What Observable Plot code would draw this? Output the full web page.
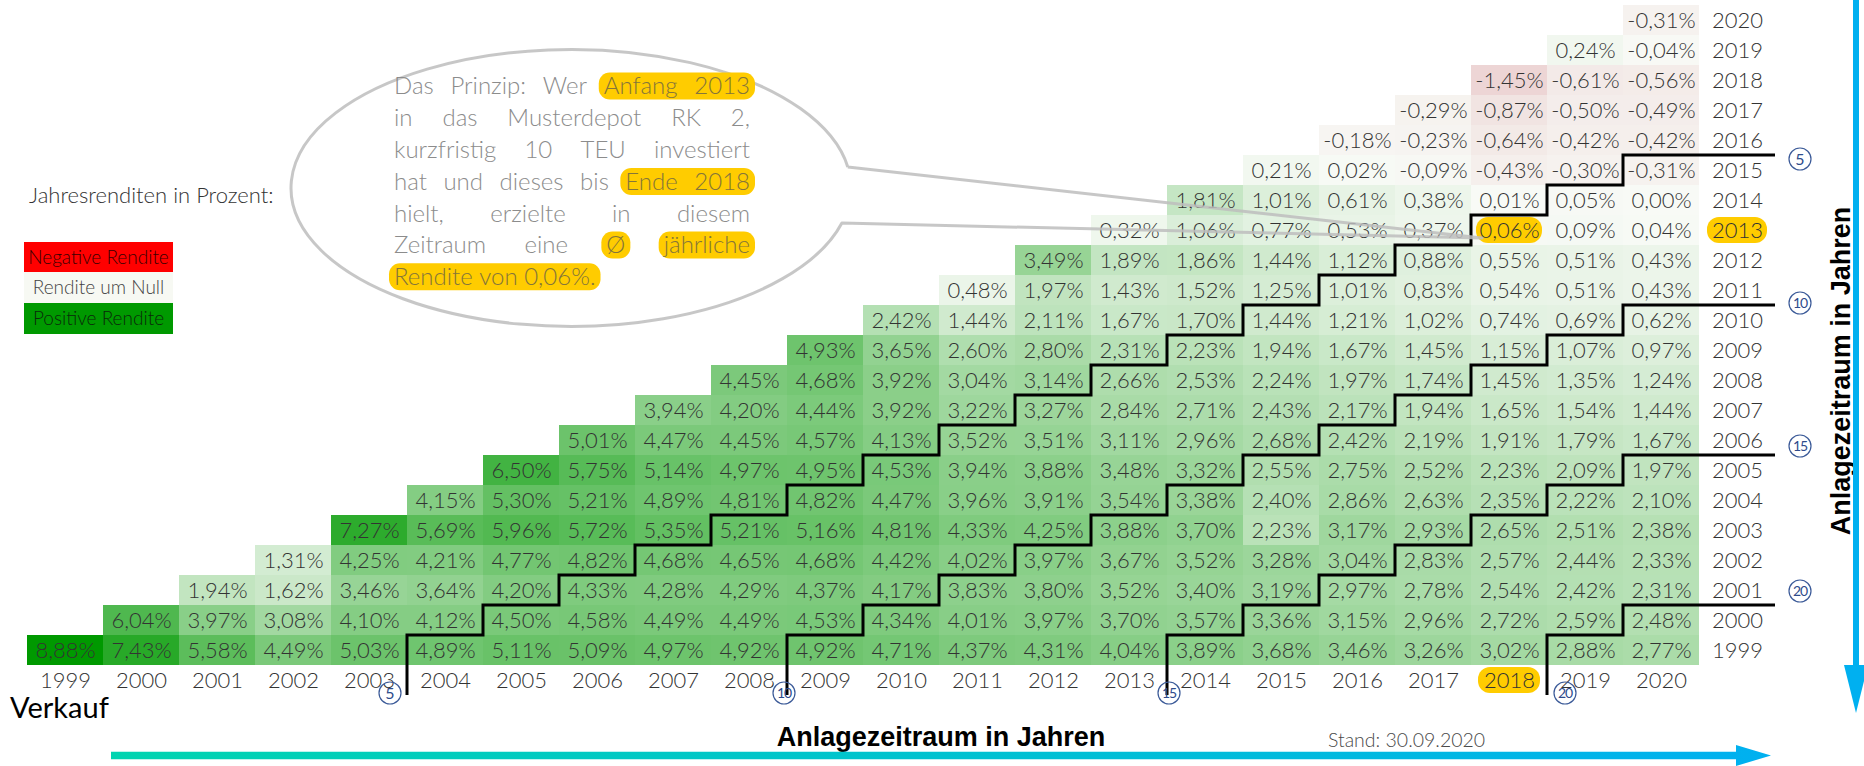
<!DOCTYPE html>
<html><head><meta charset="utf-8">
<script src="https://cdn.jsdelivr.net/npm/d3@7"></script>
<script src="https://cdn.jsdelivr.net/npm/@observablehq/plot@0.6"></script>
<style>
html,body{margin:0;padding:0;background:#fff;overflow:hidden}
#chart{position:relative;width:1864px;height:766px}
</style></head><body><div id="chart"></div>
<script>
// ---- data: sell years (columns, "Ende") and buy years (rows, "Anfang") ----
const sellYears = ["1999","2000","2001","2002","2003","2004","2005","2006","2007","2008","2009","2010","2011","2012","2013","2014","2015","2016","2017","2018","2019","2020"];
const buyYears  = ["1999","2000","2001","2002","2003","2004","2005","2006","2007","2008","2009","2010","2011","2012","2013","2014","2015","2016","2017","2018","2019","2020"];
// annual return in % for an investment made at the start of the buy year, held until end of each sell year
const ret1999 = [8.88, 7.43, 5.58, 4.49, 5.03, 4.89, 5.11, 5.09, 4.97, 4.92, 4.92, 4.71, 4.37, 4.31, 4.04, 3.89, 3.68, 3.46, 3.26, 3.02, 2.88, 2.77];
const ret2000 = [6.04, 3.97, 3.08, 4.10, 4.12, 4.50, 4.58, 4.49, 4.49, 4.53, 4.34, 4.01, 3.97, 3.70, 3.57, 3.36, 3.15, 2.96, 2.72, 2.59, 2.48];
const ret2001 = [1.94, 1.62, 3.46, 3.64, 4.20, 4.33, 4.28, 4.29, 4.37, 4.17, 3.83, 3.80, 3.52, 3.40, 3.19, 2.97, 2.78, 2.54, 2.42, 2.31];
const ret2002 = [1.31, 4.25, 4.21, 4.77, 4.82, 4.68, 4.65, 4.68, 4.42, 4.02, 3.97, 3.67, 3.52, 3.28, 3.04, 2.83, 2.57, 2.44, 2.33];
const ret2003 = [7.27, 5.69, 5.96, 5.72, 5.35, 5.21, 5.16, 4.81, 4.33, 4.25, 3.88, 3.70, 2.23, 3.17, 2.93, 2.65, 2.51, 2.38];
const ret2004 = [4.15, 5.30, 5.21, 4.89, 4.81, 4.82, 4.47, 3.96, 3.91, 3.54, 3.38, 2.40, 2.86, 2.63, 2.35, 2.22, 2.10];
const ret2005 = [6.50, 5.75, 5.14, 4.97, 4.95, 4.53, 3.94, 3.88, 3.48, 3.32, 2.55, 2.75, 2.52, 2.23, 2.09, 1.97];
const ret2006 = [5.01, 4.47, 4.45, 4.57, 4.13, 3.52, 3.51, 3.11, 2.96, 2.68, 2.42, 2.19, 1.91, 1.79, 1.67];
const ret2007 = [3.94, 4.20, 4.44, 3.92, 3.22, 3.27, 2.84, 2.71, 2.43, 2.17, 1.94, 1.65, 1.54, 1.44];
const ret2008 = [4.45, 4.68, 3.92, 3.04, 3.14, 2.66, 2.53, 2.24, 1.97, 1.74, 1.45, 1.35, 1.24];
const ret2009 = [4.93, 3.65, 2.60, 2.80, 2.31, 2.23, 1.94, 1.67, 1.45, 1.15, 1.07, 0.97];
const ret2010 = [2.42, 1.44, 2.11, 1.67, 1.70, 1.44, 1.21, 1.02, 0.74, 0.69, 0.62];
const ret2011 = [0.48, 1.97, 1.43, 1.52, 1.25, 1.01, 0.83, 0.54, 0.51, 0.43];
const ret2012 = [3.49, 1.89, 1.86, 1.44, 1.12, 0.88, 0.55, 0.51, 0.43];
const ret2013 = [0.32, 1.06, 0.77, 0.53, 0.37, 0.06, 0.09, 0.04];
const ret2014 = [1.81, 1.01, 0.61, 0.38, 0.01, 0.05, 0.00];
const ret2015 = [0.21, 0.02, -0.09, -0.43, -0.30, -0.31];
const ret2016 = [-0.18, -0.23, -0.64, -0.42, -0.42];
const ret2017 = [-0.29, -0.87, -0.50, -0.49];
const ret2018 = [-1.45, -0.61, -0.56];
const ret2019 = [0.24, -0.04];
const ret2020 = [-0.31];
const periodMarks = [5, 10, 15, 20];
const highlightBuy = "2013", highlightSell = "2018";

// ---- build table ----
const rowsList = [ret1999,ret2000,ret2001,ret2002,ret2003,ret2004,ret2005,ret2006,ret2007,ret2008,ret2009,ret2010,ret2011,ret2012,ret2013,ret2014,ret2015,ret2016,ret2017,ret2018,ret2019,ret2020];
const cells = [];
rowsList.forEach((arr, i) => arr.forEach((v, j) => cells.push({buy: buyYears[i], sell: sellYears[i + j], value: v})));
const fmt = v => v.toFixed(2).replace(".", ",") + "%";

const xDomain = [...sellYears, "R"];
const yDomain = [...buyYears.slice().reverse(), "B"];
const FONT = "Lato, 'Open Sans', sans-serif";

const plot = Plot.plot({
  width: 1864, height: 766,
  marginLeft: 24, marginRight: 86, marginTop: 4, marginBottom: 70,
  x: {type: "band", domain: xDomain, padding: 0, axis: null},
  y: {type: "band", domain: yDomain, padding: 0, axis: null},
  color: {type: "linear", domain: [-1.45, 0, 8.88], range: ["#edd5d5", "#f8faf6", "#009900"], interpolate: "rgb"},
  style: {fontFamily: FONT, background: "transparent", overflow: "visible"},
  marks: [
    Plot.cell(cells, {x: "sell", y: "buy", fill: "value"}),
    Plot.cell([{buy: highlightBuy, sell: highlightSell}], {x: "sell", y: "buy", fill: "#ffcc00", rx: 12, insetLeft: 5, insetRight: 5, insetTop: 2, insetBottom: 2}),
    Plot.text(cells, {x: "sell", y: "buy", text: d => fmt(d.value), fill: "#333", fontSize: 22, fontWeight: 300}),
    Plot.cell([highlightBuy], {x: () => "R", y: d => d, fill: "#ffcc00", rx: 12, insetLeft: 8, insetRight: 8, insetTop: 2, insetBottom: 2}),
    Plot.text(buyYears, {x: () => "R", y: d => d, text: d => d, fill: "#333", fontSize: 22, fontWeight: 300}),
    Plot.cell([highlightSell], {x: d => d, y: () => "B", fill: "#ffcc00", rx: 12, insetLeft: 7, insetRight: 7, insetTop: 2, insetBottom: 2}),
    Plot.text(sellYears, {x: d => d, y: () => "B", text: d => d, fill: "#333", fontSize: 22, fontWeight: 300})
  ]
});
document.getElementById("chart").appendChild(plot);

// ---- overlays positioned from the plot's own scales ----
const svg = d3.select(plot);
const xs = plot.scale("x"), ys = plot.scale("y");
const bw = xs.bandwidth, bh = ys.bandwidth;
const X = v => xs.apply(String(v)), Y = v => ys.apply(String(v));

// staircase lines for holding periods
const stairs = svg.append("g").attr("fill", "none").attr("stroke", "#000").attr("stroke-width", 3);
periodMarks.forEach(k => {
  const pts = [[X("R") + bw, Y(2020 - k)]];
  for (let c = 2020; c >= 1999 + k; c--) {
    pts.push([X(c), Y(c - k)]);
    const below = (c - k - 1 >= 1999) ? Y(c - k - 1) : Y("B") + bh;
    pts.push([X(c), below]);
  }
  stairs.append("path").attr("d", d3.line()(pts));
});

// circled period numbers
const circ = svg.append("g").attr("text-anchor", "middle");
const bottomOff = {5: -17, 10: -3, 15: 2, 20: 18};
const rightOff = {5: 4, 10: -2, 15: -9, 20: -14};
function circled(x, y, n) {
  circ.append("circle").attr("cx", x).attr("cy", y).attr("r", 11).attr("fill", "none").attr("stroke", "#3b5a98").attr("stroke-width", 1.2);
  circ.append("text").attr("x", x).attr("y", y).attr("dy", "0.36em")
    .attr("font-family", FONT).attr("font-size", n >= 10 ? 14 : 16).attr("fill", "#2e4b8c")
    .attr("letter-spacing", n >= 10 ? -1.2 : 0).text(n);
}
periodMarks.forEach(k => {
  circled(X(1999 + k) + bottomOff[k], Y("B") + bh - 2, k);
  circled(X("R") + bw + 25, Y(2020 - k) + rightOff[k], k);
});

// speech bubble
const ann = svg.append("g").attr("text-anchor", "start");
ann.append("path")
  .attr("d", "M847.8,167 L1482,238 L841.9,223 A280,138.5 0 1 1 847.8,167")
  .attr("fill", "none").attr("stroke", "#bdbdbd").attr("stroke-width", 3).attr("stroke-opacity", 0.85).attr("stroke-linejoin", "round");

// callout text, justified (measured in the SVG)
const FS = 24;
const lines = [
  [["Das",0],["Prinzip:",0],["Wer",0],["Anfang",1],["2013",1]],
  [["in",0],["das",0],["Musterdepot",0],["RK",0],["2,",0]],
  [["kurzfristig",0],["10",0],["TEU",0],["investiert",0]],
  [["hat",0],["und",0],["dieses",0],["bis",0],["Ende",2],["2018",2]],
  [["hielt,",0],["erzielte",0],["in",0],["diesem",0]],
  [["Zeitraum",0],["eine",0],["Ø",3],["jährliche",4]],
  [["Rendite",5],["von",5],["0,06%.",5]]
];
const tL = 394, tR = 750, t0 = 86, tStep = 31.8;
const pillG = ann.append("g"), wordG = ann.append("g");
const probe = wordG.append("text").attr("font-family", FONT).attr("font-weight", 300).attr("font-size", FS).attr("x", 0).attr("y", -100).text("a a");
const probe2 = wordG.append("text").attr("font-family", FONT).attr("font-weight", 300).attr("font-size", FS).attr("x", 0).attr("y", -100).text("aa");
const spaceW = probe.node().getComputedTextLength() - probe2.node().getComputedTextLength();
probe.remove(); probe2.remove();
lines.forEach((words, li) => {
  const cy = t0 + li * tStep;
  const nodes = words.map(w => wordG.append("text").attr("y", cy).attr("dy", "0.35em")
      .attr("font-family", FONT).attr("font-weight", 300).attr("font-size", FS)
      .attr("fill", w[1] ? "#85753a" : "#8c8c8c").text(w[0]));
  const ws = nodes.map(n => n.node().getComputedTextLength());
  const total = d3.sum(ws);
  const last = li === lines.length - 1;
  const gap = last ? spaceW : (tR - tL - total) / (words.length - 1);
  let x = tL;
  const groups = {};
  words.forEach((w, i) => {
    nodes[i].attr("x", x);
    if (w[1]) { const g = groups[w[1]] || (groups[w[1]] = [x, x]); g[1] = x + ws[i]; }
    x += ws[i] + gap;
  });
  Object.values(groups).forEach(([a, b]) => {
    pillG.append("rect").attr("x", a - 5).attr("y", cy - 13.5).attr("width", b - a + 10).attr("height", 27)
      .attr("rx", 11).attr("fill", "#ffcc00");
  });
});

// legend
const leg = svg.append("g").attr("font-family", FONT);
leg.append("text").attr("x", 29).attr("y", 203).attr("text-anchor", "start").attr("font-size", 22).attr("font-weight", 300).attr("fill", "#333").text("Jahresrenditen in Prozent:");
[["Negative Rendite", "#ff0000", "#3a0000", 242], ["Rendite um Null", "#f7f9f3", "#444", 272], ["Positive Rendite", "#009900", "#0a2a0a", 303]].forEach(([t, f, c, y]) => {
  leg.append("rect").attr("x", 24).attr("y", y).attr("width", 149).attr("height", 31).attr("fill", f);
  leg.append("text").attr("x", 98.5).attr("y", y + 15.5).attr("dy", "0.35em").attr("text-anchor", "middle")
    .attr("font-size", 19).attr("font-weight", 300).attr("fill", c).text(t);
});

// axis titles and notes
svg.append("text").attr("x", 10).attr("y", 718).attr("text-anchor", "start").attr("font-family", FONT).attr("font-size", 29).attr("fill", "#000").text("Verkauf");
svg.append("text").attr("x", 941).attr("y", 746).attr("text-anchor", "middle").attr("font-family", "'Liberation Sans', Arial, sans-serif")
  .attr("font-weight", "bold").attr("font-size", 27).attr("fill", "#000").text("Anlagezeitraum in Jahren");
svg.append("text").attr("transform", "translate(1850,371) rotate(-90)").attr("text-anchor", "middle").attr("font-family", "'Liberation Sans', Arial, sans-serif")
  .attr("font-weight", "bold").attr("font-size", 27).attr("fill", "#000").text("Anlagezeitraum in Jahren");
svg.append("text").attr("x", 1328).attr("y", 747).attr("text-anchor", "start").attr("font-family", FONT).attr("font-weight", 300).attr("font-size", 19.5).attr("fill", "#4a4a4a").text("Stand: 30.09.2020");

// arrows
const defs = svg.append("defs");
const lg = defs.append("linearGradient").attr("id", "harrow").attr("x1", 0).attr("x2", 1).attr("y1", 0).attr("y2", 0);
lg.append("stop").attr("offset", "0%").attr("stop-color", "#00d4b0");
lg.append("stop").attr("offset", "100%").attr("stop-color", "#00b0f0");
svg.append("path").attr("d", "M111,751.8 L1736,751.8 L1736,745 L1771,755.5 L1736,766 L1736,759.2 L111,759.2 Z").attr("fill", "url(#harrow)");
svg.append("path").attr("d", "M1853,0 L1859,0 L1859,665 L1868,665 L1856,713 L1844,665 L1853,665 Z").attr("fill", "#00b0f0");
</script>
</body></html>
